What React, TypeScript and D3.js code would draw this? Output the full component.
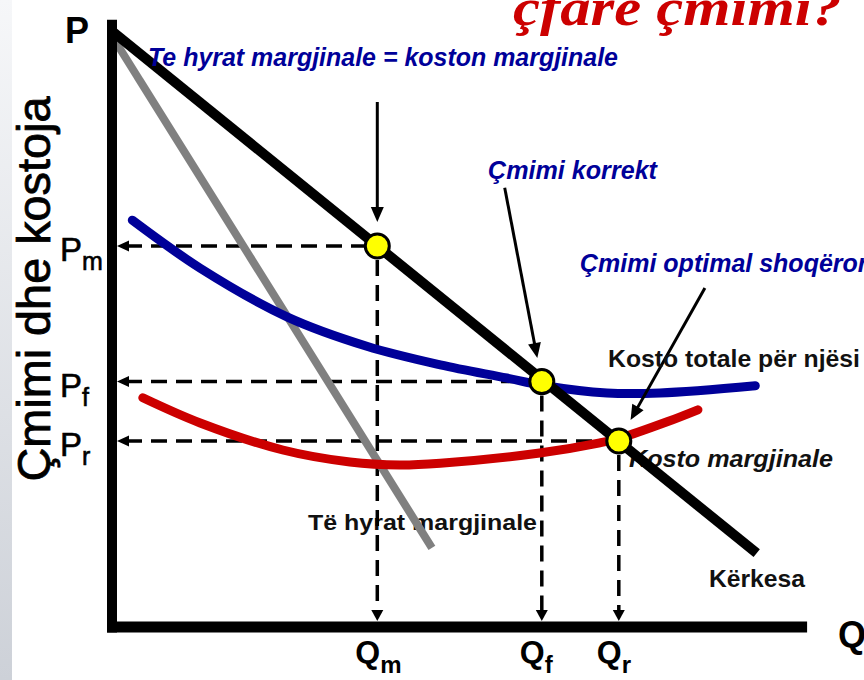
import React from "react";
import * as d3 from "d3";

const W = 864;
const H = 680;

// Data in abstract units: quantity Q (0..100) and price/cost P (0..100)
const demandQ = [0, 92.1];
const demandP = [99.3, 12.3];
const mrQ = [0, 45.7];
const mrP = [98.5, 13.2];
const atcQ = [2.9, 12.6, 25, 36.4, 46.9, 56.4, 61.4, 70.7, 78.3, 91.9];
const atcP = [67.8, 59.8, 51.7, 46.8, 43.7, 41.5, 40.3, 39.0, 39.0, 40.2];
const mcQ = [4.4, 12.6, 24.4, 34, 41.1, 46.9, 61.1, 69.7, 72.6, 79.3, 83.7];
const mcP = [38.2, 34.0, 29.5, 27.5, 27.0, 27.3, 29.0, 30.7, 31.5, 34.2, 36.2];
const eqSubs = ["m", "f", "r"];
const eqQ = [37.9, 61.4, 72.4];
const eqP = [63.5, 40.9, 31.0];
// annotation arrows: start points, each pointing at the equilibrium with the same index
const arrowFromQ = [37.9, 56.1, 84.7];
const arrowFromP = [87.5, 73.2, 56.5];
const blueLabels = [
  "Te hyrat margjinale = koston margjinale",
  "Çmimi korrekt",
  "Çmimi optimal shoqëror",
];

const SANS = "'Liberation Sans', Arial, Helvetica, sans-serif";

export default function App() {
  const x = d3.scaleLinear().domain([0, 100]).range([112, 812]);
  const y = d3.scaleLinear().domain([0, 100]).range([627, 27]);
  const straight = d3
    .line<[number, number]>()
    .x((d) => x(d[0]))
    .y((d) => y(d[1]));
  const smooth = d3
    .line<[number, number]>()
    .x((d) => x(d[0]))
    .y((d) => y(d[1]))
    .curve(d3.curveCatmullRom.alpha(0.5));

  const demand = demandQ.map((q, i) => [q, demandP[i]] as [number, number]);
  const mr = mrQ.map((q, i) => [q, mrP[i]] as [number, number]);
  const atc = atcQ.map((q, i) => [q, atcP[i]] as [number, number]);
  const mc = mcQ.map((q, i) => [q, mcP[i]] as [number, number]);

  const R = 12;
  const dash = "16 9";
  const x0 = x(0);
  const y0 = y(0);

  const arrowHead = (tx: number, ty: number, dx: number, dy: number, len: number, half: number) => {
    const L = Math.hypot(dx, dy);
    const ux = dx / L;
    const uy = dy / L;
    const bx = tx - ux * len;
    const by = ty - uy * len;
    return `M${tx},${ty}L${bx - uy * half},${by + ux * half}L${bx + uy * half},${by - ux * half}Z`;
  };

  return (
    <div style={{ position: "absolute", left: 0, top: 0, width: W, height: H }}>
      <svg width={W} height={H} style={{ display: "block", background: "#ffffff" }} fontFamily={SANS}>
        <defs>
          <linearGradient id="strip" x1="0" y1="0" x2="0" y2="1">
            <stop offset="0" stopColor="#f6f7f9" />
            <stop offset="1" stopColor="#cdd1d8" />
          </linearGradient>
        </defs>
        <rect x={0} y={0} width={W} height={H} fill="#ffffff" />
        <rect x={0} y={0} width={12} height={H} fill="url(#strip)" />

        {/* title */}
        <text
          x={513}
          y={25}
          fontFamily="'Liberation Serif', 'Times New Roman', serif"
          fontWeight="bold"
          fontStyle="italic"
          fontSize={52}
          fill="#cc0000"
          textLength={329}
          lengthAdjust="spacingAndGlyphs"
        >
          çfare çmimi?
        </text>

        {/* y axis title */}
        <text
          transform={`translate(50,289) rotate(-90)`}
          textAnchor="middle"
          fontSize={46}
          fill="#000"
          stroke="#000"
          strokeWidth={0.8}
          textLength={385}
          lengthAdjust="spacingAndGlyphs"
        >
          Çmimi dhe kostoja
        </text>

        {/* curve labels placed under the lines */}
        <text x={308} y={530} fontSize={22} fontWeight="bold" fill="#111" textLength={229} lengthAdjust="spacingAndGlyphs">
          Të hyrat margjinale
        </text>
        <text x={629} y={467} fontSize={24} fontStyle="italic" fontWeight="bold" fill="#111" textLength={204} lengthAdjust="spacingAndGlyphs">
          Kosto margjinale
        </text>

        {/* dashed guides */}
        {eqQ.map((q, i) => {
          const cx = x(q);
          const cy = y(eqP[i]);
          return (
            <g key={"d" + i}>
              <line x1={x0 + 14} y1={cy} x2={cx - R} y2={cy} stroke="#000" strokeWidth={3.5} strokeDasharray={dash} />
              <path d={arrowHead(x0 + 5, cy, -1, 0, 12, 5.5)} fill="#000" />
              <line x1={cx} y1={cy + R + 2} x2={cx} y2={y0 - 15} stroke="#000" strokeWidth={3.5} strokeDasharray={dash} />
              <path d={arrowHead(cx, y0 - 6, 0, 1, 11, 6)} fill="#000" />
            </g>
          );
        })}

        {/* marginal revenue */}
        <path d={straight(mr) || ""} fill="none" stroke="#808080" strokeWidth={8} />
        {/* average total cost */}
        <path d={smooth(atc) || ""} fill="none" stroke="#000099" strokeWidth={9} strokeLinecap="round" />
        {/* marginal cost */}
        <path d={smooth(mc) || ""} fill="none" stroke="#cc0000" strokeWidth={9} strokeLinecap="round" />
        {/* demand */}
        <path d={straight(demand) || ""} fill="none" stroke="#000" strokeWidth={10} />

        {/* axes */}
        <line x1={x0} y1={y(101.2)} x2={x0} y2={y(-0.9)} stroke="#000" strokeWidth={10} />
        <line x1={x(-0.7)} y1={y0} x2={x(99.3)} y2={y0} stroke="#000" strokeWidth={11} />

        {/* equilibrium points */}
        {eqQ.map((q, i) => (
          <circle key={"c" + i} cx={x(q)} cy={y(eqP[i])} r={R} fill="#ffff00" stroke="#000" strokeWidth={3} />
        ))}

        {/* annotation arrows */}
        {arrowFromQ.map((q, i) => {
          const sx = x(q);
          const sy = y(arrowFromP[i]);
          const cx = x(eqQ[i]);
          const cy = y(eqP[i]);
          const dx = cx - sx;
          const dy = cy - sy;
          const L = Math.hypot(dx, dy);
          const tx = cx - (dx / L) * (R + 12);
          const ty = cy - (dy / L) * (R + 12);
          const lx = tx - (dx / L) * 10;
          const ly = ty - (dy / L) * 10;
          return (
            <g key={"a" + i}>
              <line x1={sx} y1={sy} x2={lx} y2={ly} stroke="#000" strokeWidth={3} />
              <path d={arrowHead(tx, ty, dx, dy, 15, 6.5)} fill="#000" />
            </g>
          );
        })}

        {/* blue annotation labels */}
        <g fill="#000099" fontWeight="bold" fontStyle="italic" fontSize={25}>
          <text x={148} y={66} textLength={470} lengthAdjust="spacingAndGlyphs">{blueLabels[0]}</text>
          <text x={488} y={179} textLength={169} lengthAdjust="spacingAndGlyphs">{blueLabels[1]}</text>
          <text x={580} y={272}>{blueLabels[2]}</text>
        </g>

        {/* black labels */}
        <text x={608} y={367} fontSize={24} fontWeight="bold" fill="#111" textLength={252} lengthAdjust="spacingAndGlyphs">
          Kosto totale për njësi
        </text>
        <text x={709} y={587} fontSize={24} fontWeight="bold" fill="#111" textLength={96} lengthAdjust="spacingAndGlyphs">
          Kërkesa
        </text>

        {/* axis letters */}
        <text x={65} y={43} fontSize={36} fontWeight="bold" fill="#000">P</text>
        <text x={838} y={647} fontSize={36} fontWeight="bold" fill="#000">Q</text>

        {/* price ticks */}
        {eqP.map((p, i) => (
          <text key={"p" + i} x={60} y={y(p) + 15} fontSize={33} fill="#000" stroke="#000" strokeWidth={0.6}>
            P<tspan fontSize={25} dy={9}>{eqSubs[i]}</tspan>
          </text>
        ))}
        {/* quantity ticks */}
        {eqQ.map((q, i) => (
          <text key={"q" + i} x={x(q) - 22} y={663} fontSize={32} fontWeight="bold" fill="#000">
            Q<tspan fontSize={24} dy={10}>{eqSubs[i]}</tspan>
          </text>
        ))}
      </svg>
    </div>
  );
}
